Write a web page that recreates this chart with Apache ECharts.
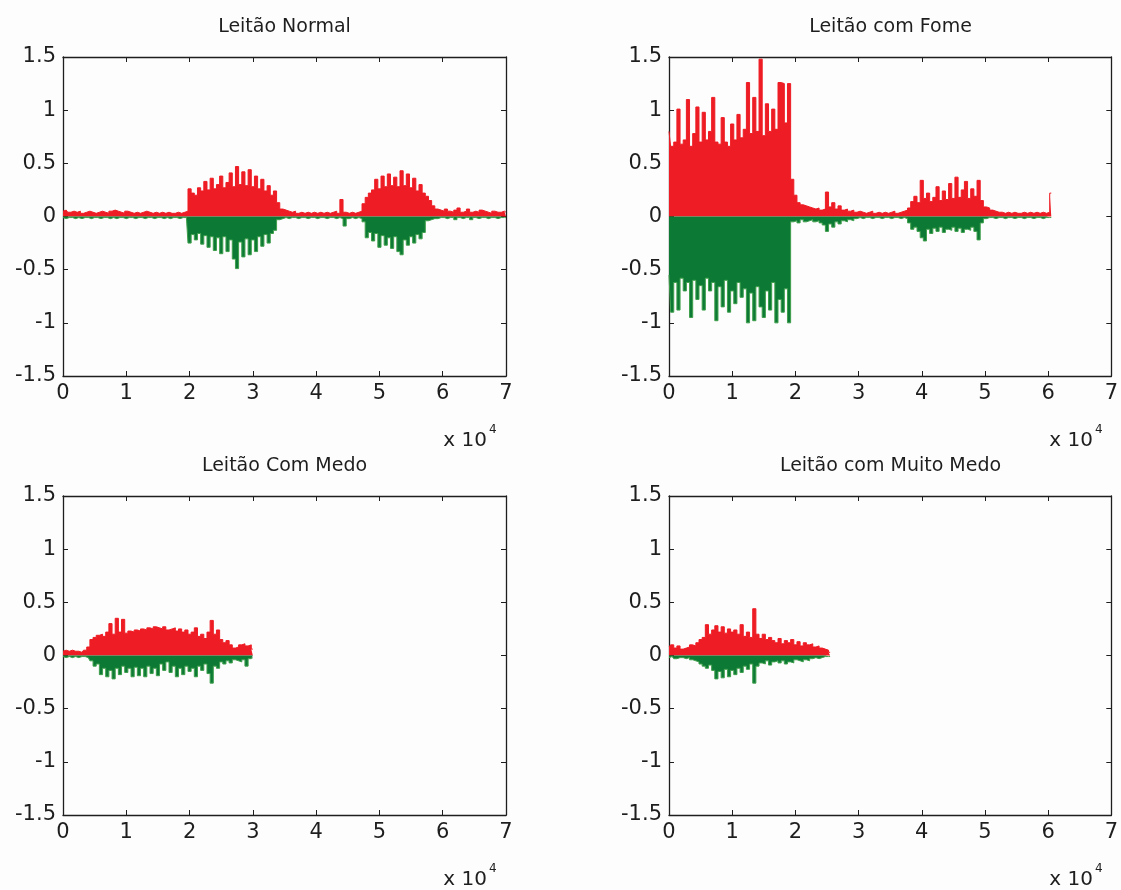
<!DOCTYPE html>
<html>
<head>
<meta charset="utf-8">
<title>Leitão</title>
<script src="https://cdn.jsdelivr.net/npm/echarts@6/dist/echarts.min.js"></script>
<style>
html, body { margin: 0; padding: 0; background: #fdfdfd; }
#chart { width: 1121px; height: 890px; }
</style>
</head>
<body>
<div id="chart"></div>
<script>
// amostras entre dois pontos
var STEP = 500;
var titles = ['Leitão Normal', 'Leitão com Fome', 'Leitão Com Medo', 'Leitão com Muito Medo'];

// envoltória positiva (vermelho) e negativa (verde), um valor a cada 500 amostras
var normalRed = [
  0.05,0.06,0.04,0.05,0.04,0.05,0.03,0.04,0.05,0.04, 0.03,0.04,0.05,0.04,0.03,0.05,0.06,0.05,0.04,0.03,
  0.05,0.04,0.03,0.04,0.03,0.04,0.05,0.04,0.03,0.04, 0.03,0.04,0.03,0.04,0.03,0.03,0.04,0.03,0.04,0.05,
  0.26,0.22,0.20,0.27,0.24,0.33,0.25,0.36,0.26,0.30, 0.38,0.27,0.32,0.41,0.28,0.47,0.30,0.42,0.29,0.44,
  0.28,0.38,0.26,0.35,0.24,0.29,0.20,0.24,0.13,0.07,
  0.06,0.05,0.04,0.05,0.03,0.04,0.03,0.04,0.03,0.04,0.03,0.04,0.03,0.04,0.03,0.04,0.05,0.03,
  0.16,0.04,0.03,0.04,0.03,0.04,0.05,0.12,
  0.18,0.22,0.25,0.35,0.26,0.38,0.28,0.40,0.29,0.37, 0.28,0.43,0.29,0.40,0.27,0.36,0.24,0.30,0.22,0.19,
  0.15,0.10,0.07,0.06,
  0.05,
  0.07,0.05,0.04,0.06,0.08,0.04,0.05,0.07,0.04,0.05, 0.04,0.06,0.05,0.04,0.03,0.05,0.04,0.04,0.05,0.04
];
var normalGreen = [
  -0.01,-0.02,-0.01,-0.01,-0.02,-0.01,-0.02,-0.01,-0.01,-0.02, -0.01,-0.01,-0.02,-0.01,-0.01,-0.02,-0.01,-0.02,-0.01,-0.01,
  -0.02,-0.01,-0.01,-0.02,-0.01,-0.01,-0.02,-0.01,-0.01,-0.02, -0.01,-0.01,-0.02,-0.01,-0.02,-0.01,-0.01,-0.02,-0.01,-0.01,
  -0.25,-0.17,-0.22,-0.16,-0.26,-0.18,-0.29,-0.19,-0.32,-0.20, -0.35,-0.19,-0.33,-0.22,-0.40,-0.49,-0.24,-0.38,-0.21,-0.36,
  -0.22,-0.33,-0.19,-0.28,-0.17,-0.25,-0.16,-0.13,-0.03,-0.02,
  -0.01,-0.02,-0.01,-0.01,-0.02,-0.01,-0.01,-0.02,-0.01,-0.01,-0.02,-0.01,-0.01,-0.02,-0.01,-0.01,-0.02,-0.01,
  -0.02,-0.09,-0.02,-0.01,-0.02,-0.01,-0.02,-0.05,
  -0.20,-0.15,-0.23,-0.16,-0.29,-0.18,-0.27,-0.20,-0.30,-0.19, -0.33,-0.36,-0.22,-0.27,-0.19,-0.25,-0.17,-0.21,-0.15,-0.04,
  -0.03,-0.02,-0.02,-0.01,
  -0.01,
  -0.02,-0.01,-0.01,-0.03,-0.01,-0.02,-0.01,-0.01,-0.03,-0.01, -0.02,-0.01,-0.01,-0.02,-0.01,-0.01,-0.02,-0.01,-0.01,-0.01
];

var fomeRed = [
  0.80,0.66,0.70,1.01,0.68,0.72,1.10,0.66,0.78,1.03, 0.70,0.98,0.72,0.80,1.12,0.70,0.68,0.93,0.70,0.66,
  0.87,0.72,0.96,0.74,0.82,1.26,0.78,1.12,0.80,1.48, 0.76,1.06,0.80,1.01,0.82,1.26,1.25,0.88,1.25,
  0.35,0.20,0.13,0.11,0.10,0.09,0.08,0.07,0.08,0.06,0.07, 0.23,0.09,0.13,0.07,0.10,0.06,0.07,0.05,0.06,0.04,0.05,
  0.04,0.03,0.04,0.05,0.03,0.04,0.03,0.04,0.03,0.04,0.05,0.03,0.04,0.05,0.06,
  0.08,0.14,0.19,0.13,0.34,0.17,0.22,0.14,0.18,0.28, 0.15,0.24,0.16,0.31,0.17,0.37,0.18,0.25,0.33,0.17,
  0.26,0.19,0.34,0.15,0.09,0.08,0.06,
  0.05,0.04,0.04,0.03,0.04,0.03,0.04,0.03,0.03,0.04,0.03,0.04,0.03,0.04,0.03,0.04,0.03,0.04,
  0.22
];
var fomeGreen = [
  -0.55,-0.90,-0.62,-0.88,-0.58,-0.70,-0.62,-0.95,-0.60,-0.78, -0.65,-0.88,-0.58,-0.70,-0.62,-0.98,-0.66,-0.85,-0.60,-0.90,
  -0.70,-0.82,-0.62,-0.76,-0.68,-1.00,-0.72,-0.98,-0.66,-0.85, -0.95,-0.70,-0.88,-0.62,-1.00,-0.78,-0.90,-0.68,-1.00,
  -0.05,-0.04,-0.06,-0.03,-0.05,-0.04,-0.03,-0.05,-0.04,-0.06,-0.08, -0.14,-0.07,-0.10,-0.05,-0.07,-0.04,-0.05,-0.03,-0.04,-0.02,
  -0.01,-0.02,-0.01,-0.01,-0.02,-0.01,-0.01,-0.02,-0.01,-0.01,-0.02,-0.01,-0.01,-0.02,-0.01,-0.02,
  -0.06,-0.12,-0.10,-0.14,-0.20,-0.23,-0.12,-0.16,-0.11,-0.14, -0.10,-0.15,-0.12,-0.13,-0.10,-0.14,-0.11,-0.15,-0.12,-0.13,
  -0.10,-0.14,-0.22,-0.06,
  -0.02,-0.01,-0.01,-0.02,-0.01,-0.01,-0.02,-0.01,-0.01,-0.02,-0.01, -0.01,-0.02,-0.01,-0.01,-0.02,-0.01,-0.01,-0.02,-0.01,-0.01,-0.01
];

var medoRed = [
  0.04,0.05,0.04,0.05,0.04,0.04,0.03,0.05,
  0.08,0.15,0.17,0.19,0.20,0.18,0.22,0.30,0.20,0.35, 0.22,0.34,0.21,0.23,0.22,0.24,0.23,0.25,0.24,0.26,
  0.25,0.27,0.26,0.25,0.27,0.24,0.25,0.26,0.23,0.25, 0.22,0.24,0.20,0.22,0.26,0.18,0.20,0.16,0.22,0.33,
  0.20,0.24,0.15,0.12,0.14,0.10,0.07,0.08,0.10,0.11, 0.09,0.10,0.06
];
var medoGreen = [
  -0.01,-0.02,-0.01,-0.02,-0.01,-0.02,-0.01,-0.01,-0.02,
  -0.05,-0.10,-0.08,-0.18,-0.12,-0.20,-0.14,-0.22,-0.12,-0.18, -0.10,-0.16,-0.12,-0.20,-0.11,-0.19,-0.12,-0.20,-0.10,-0.17,
  -0.12,-0.19,-0.08,-0.14,-0.06,-0.16,-0.10,-0.20,-0.12,-0.18, -0.10,-0.15,-0.12,-0.20,-0.10,-0.14,-0.08,-0.17,-0.26,-0.10,
  -0.12,-0.06,-0.08,-0.05,-0.07,-0.04,-0.05,-0.06,-0.04,-0.10, -0.03,-0.02
];

var muitoRed = [
  0.08,0.10,0.07,0.09,0.06,0.07,0.08,0.10,0.09,0.12, 0.15,0.17,0.29,0.20,0.24,0.28,0.22,0.27,0.21,0.25,
  0.22,0.24,0.20,0.29,0.18,0.22,0.17,0.44,0.20,0.16, 0.20,0.15,0.17,0.14,0.12,0.16,0.11,0.14,0.12,0.15,
  0.10,0.13,0.09,0.12,0.10,0.11,0.08,0.09,0.07,0.06, 0.05,0.03
];
var muitoGreen = [
  -0.02,-0.01,-0.03,-0.02,-0.02,-0.03,-0.02,-0.04,-0.05,-0.06, -0.08,-0.10,-0.12,-0.09,-0.14,-0.22,-0.15,-0.21,-0.13,-0.20,
  -0.14,-0.18,-0.12,-0.16,-0.10,-0.13,-0.08,-0.26,-0.10,-0.07, -0.08,-0.05,-0.09,-0.06,-0.05,-0.07,-0.05,-0.08,-0.06,-0.07,
  -0.04,-0.05,-0.06,-0.04,-0.05,-0.03,-0.02,-0.03,-0.02,-0.01, -0.01,-0.01
];

var reds = [normalRed, fomeRed, medoRed, muitoRed];
var greens = [normalGreen, fomeGreen, medoGreen, muitoGreen];

var RED = '#ee1c24';
var GREEN = '#0c7a35';
var GREEN_EDGE = '#3f9f4c';
var INK = '#1e1e1e';
var FONT = 'DejaVu Sans, sans-serif';

// posição de cada quadro (px)
var boxes = [
  { left: 63,  top: 57 },
  { left: 669, top: 57 },
  { left: 63,  top: 496 },
  { left: 669, top: 496 }
];
var W = 443, H = 319;

function toPairs(arr) {
  return arr.map(function (v, i) { return [i * STEP, v]; });
}

var grids = [], xAxes = [], yAxes = [], series = [], graphics = [];

boxes.forEach(function (b, g) {
  grids.push({ left: b.left, top: b.top, width: W, height: H });

  var xBase = {
    type: 'value', gridIndex: g, min: 0, max: 70000, interval: 10000,
    axisLine: { show: true, onZero: false, lineStyle: { color: INK, width: 1.3 } },
    axisTick: { show: true, inside: true, length: 5, lineStyle: { color: INK } },
    splitLine: { show: false }
  };
  xAxes.push(Object.assign({}, xBase, {
    position: 'bottom',
    axisLabel: { show: true, color: INK, fontSize: 21, fontFamily: FONT, margin: 7,
      formatter: function (v) { return String(v / 10000); } }
  }));
  xAxes.push(Object.assign({}, xBase, { position: 'top', axisLabel: { show: false } }));

  var yBase = {
    type: 'value', gridIndex: g, min: -1.5, max: 1.5, interval: 0.5,
    axisLine: { show: true, onZero: false, lineStyle: { color: INK, width: 1.3 } },
    axisTick: { show: true, inside: true, length: 5, lineStyle: { color: INK } },
    splitLine: { show: false }
  };
  yAxes.push(Object.assign({}, yBase, {
    position: 'left',
    axisLabel: { show: true, color: INK, fontSize: 21, fontFamily: FONT, margin: 7 }
  }));
  yAxes.push(Object.assign({}, yBase, { position: 'right', axisLabel: { show: false } }));

  series.push({
    type: 'line', xAxisIndex: 2 * g, yAxisIndex: 2 * g, step: 'middle',
    data: toPairs(reds[g]), symbol: 'none', sampling: null, silent: true,
    lineStyle: { color: RED, width: 1 },
    areaStyle: { color: RED, opacity: 1 }
  });
  series.push({
    type: 'line', xAxisIndex: 2 * g, yAxisIndex: 2 * g, step: 'middle',
    data: toPairs(greens[g]), symbol: 'none', sampling: null, silent: true,
    lineStyle: { color: GREEN_EDGE, width: 1 },
    areaStyle: { color: GREEN, opacity: 1 }
  });

  graphics.push({
    type: 'text', x: b.left + W / 2, y: b.top - 30,
    style: { text: titles[g], font: '19px ' + FONT, fill: INK,
      align: 'center', verticalAlign: 'middle', textAlign: 'center', textVerticalAlign: 'middle' }
  });
  graphics.push({
    type: 'text', x: b.left + 424, y: b.top + 384,
    style: { text: 'x 10', font: '20px ' + FONT, fill: INK,
      align: 'right', verticalAlign: 'middle', textAlign: 'right', textVerticalAlign: 'middle' }
  });
  graphics.push({
    type: 'text', x: b.left + 426, y: b.top + 373,
    style: { text: '4', font: '12px ' + FONT, fill: INK,
      align: 'left', verticalAlign: 'middle', textAlign: 'left', textVerticalAlign: 'middle' }
  });
});

var chart = echarts.init(document.getElementById('chart'), null, { renderer: 'canvas' });
chart.setOption({
  backgroundColor: '#fdfdfd',
  animation: false,
  grid: grids,
  xAxis: xAxes,
  yAxis: yAxes,
  series: series,
  graphic: graphics
});
</script>
</body>
</html>
